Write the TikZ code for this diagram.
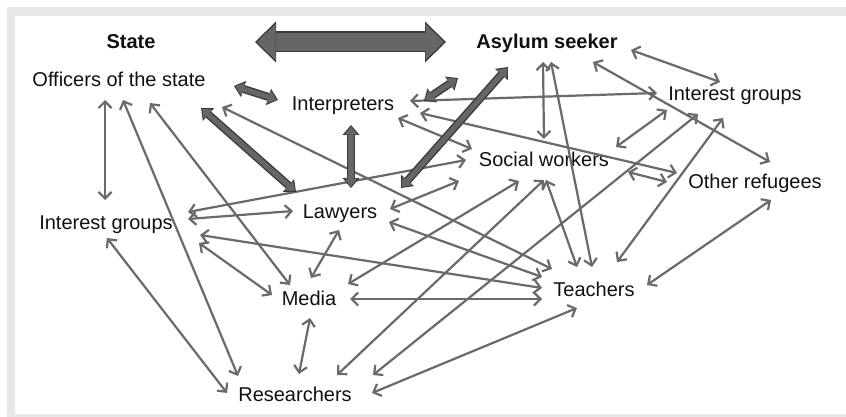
\documentclass[tikz,border=0pt]{standalone}
\usepackage{fontspec}
\setmainfont{Liberation Sans}
\usetikzlibrary{arrows.meta,calc}
\definecolor{framegray}{HTML}{E6E7E8}
\definecolor{linkgray}{HTML}{6A6A6A}
\definecolor{blockfill}{HTML}{666666}
\definecolor{blockedge}{HTML}{3A3A3A}
\definecolor{ink}{HTML}{111111}
\tikzset{
  >={Straight Barb[length=6.5pt,width=13pt]},
  hvo/.tip={Triangle[length=10pt,width=17pt,line width=0pt]},
  hvi/.tip={Triangle[length=8pt,width=13pt,line width=0pt]},
  wdo/.tip={Triangle[length=21pt,width=41pt,line width=0pt]},
  wdi/.tip={Triangle[length=18.5pt,width=36pt,line width=0pt]},
  actor/.style={font=\fontsize{20}{24}\selectfont, text=ink, inner sep=0pt, text height=14pt, text depth=0pt},
  side/.style={actor, font=\fontsize{20}{24}\selectfont\bfseries},
  link/.style={<->, line width=2.2pt, color=linkgray},
  heavyarrow/.style={hvo-hvo, draw=blockedge, line width=8pt,
    postaction={draw=blockfill, hvi-hvi, line width=5.2pt, shorten <=1.5pt, shorten >=1.5pt}},
  widearrow/.style={wdo-wdo, draw=blockedge, line width=21pt,
    postaction={draw=blockfill, wdi-wdi, line width=18pt, shorten <=2pt, shorten >=2pt}}
}

\begin{document}
\begin{tikzpicture}[x=1pt,y=-1pt]
  \useasboundingbox (0,0) rectangle (846,417);
  \fill[white] (0,0) rectangle (846,417);
  \fill[framegray] (7,7) rectangle (846,417);
  \fill[white] (15,16) rectangle (846,414);

  \node[side] (state) at (131,42) {State};
  \node[side] (seeker) at (547,42) {Asylum seeker};
  \node[actor] (officers) at (119,80) {Officers of the state};
  \node[actor] (interp) at (343,104) {Interpreters};
  \node[actor] (igright) at (735,94) {Interest groups};
  \node[actor] (social) at (544,160) {Social workers};
  \node[actor] (refugees) at (755,182) {Other refugees};
  \node[actor] (igleft) at (106,222) {Interest groups};
  \node[actor] (lawyers) at (340,211) {Lawyers};
  \node[actor] (media) at (309,298) {Media};
  \node[actor] (teachers) at (594,289) {Teachers};
  \node[actor] (research) at (295,394) {Researchers};

  % thin links
  \draw[link] ($(officers)+(-14,20)$) -- ($(igleft)+(-1,-22)$);
  \draw[link] ($(officers)+(4,20)$) -- ($(research)+(-57,-18)$);
  \draw[link] ($(officers)+(31,23)$) -- ($(media)+(-19,-13)$);
  \draw[link] ($(officers)+(103,27)$) -- ($(teachers)+(-42,-20)$);
  \draw[link] ($(interp)+(67,-3)$) -- ($(igright)+(-78,-1)$);
  \draw[link] ($(interp)+(77,9)$) -- ($(refugees)+(-78,-9)$);
  \draw[link] ($(interp)+(55,14)$) -- ($(social)+(-72,-11)$);
  \draw[link] ($(igleft)+(82,-10)$) -- ($(social)+(-78,0)$);
  \draw[link] ($(igleft)+(82,-3)$) -- ($(lawyers)+(-47,0)$);
  \draw[link] ($(lawyers)+(50,-2)$) -- ($(social)+(-85,21)$);
  \draw[link] ($(lawyers)+(49,11)$) -- ($(teachers)+(-52,-12)$);
  \draw[link] ($(igleft)+(94,13)$) -- ($(teachers)+(-52,-1)$);
  \draw[link] ($(igleft)+(93,21)$) -- ($(media)+(-37,-3)$);
  \draw[link] ($(lawyers)+(-1,19)$) -- ($(media)+(2,-20)$);
  \draw[link] ($(media)+(41,1)$) -- ($(teachers)+(-52,10)$);
  \draw[link] ($(media)+(39,-14)$) -- ($(social)+(-25,21)$);
  \draw[link] ($(media)+(1,20)$) -- ($(research)+(4,-20)$);
  \draw[link] ($(igleft)+(1,16)$) -- ($(research)+(-68,-1)$);
  \draw[link] ($(research)+(42,-19)$) -- ($(social)+(0,20)$);
  \draw[link] ($(research)+(78,-19)$) -- ($(igright)+(-37,20)$);
  \draw[link] ($(research)+(77,-1)$) -- ($(teachers)+(-17,19)$);
  \draw[link] ($(social)+(2,20)$) -- ($(teachers)+(-17,-22)$);
  \draw[link] ($(seeker)+(4,20)$) -- ($(teachers)+(-2,-22)$);
  \draw[link] ($(igright)+(-12,24)$) -- ($(teachers)+(23,-27)$);
  \draw[link] ($(seeker)+(-4,20)$) -- ($(social)+(0,-21)$);
  \draw[link] ($(seeker)+(84,8)$) -- ($(igright)+(-15,-12)$);
  \draw[link] ($(seeker)+(46,20)$) -- ($(refugees)+(15,-20)$);
  \draw[link] ($(igright)+(-68,16)$) -- ($(social)+(72,-13)$);
  \draw[link] ($(social)+(84,12)$) -- ($(refugees)+(-88,0)$);
  \draw[link] ($(refugees)+(16,18)$) -- ($(teachers)+(53,-4)$);

  % heavy links
  \draw[heavyarrow] ($(officers)+(115,6)$) -- ($(interp)+(-65,-4)$);
  \draw[heavyarrow] ($(officers)+(82,28)$) -- ($(lawyers)+(-44,-19)$);
  \draw[heavyarrow] ($(interp)+(8,21)$) -- ($(lawyers)+(11,-23)$);
  \draw[heavyarrow] ($(seeker)+(-39,25)$) -- ($(lawyers)+(61,-23)$);
  \draw[heavyarrow] ($(seeker)+(-89,36)$) -- ($(interp)+(81,-3)$);
  \draw[widearrow] ($(state)+(124,0)$) -- ($(seeker)+(-101,0)$);
\end{tikzpicture}
\end{document}
